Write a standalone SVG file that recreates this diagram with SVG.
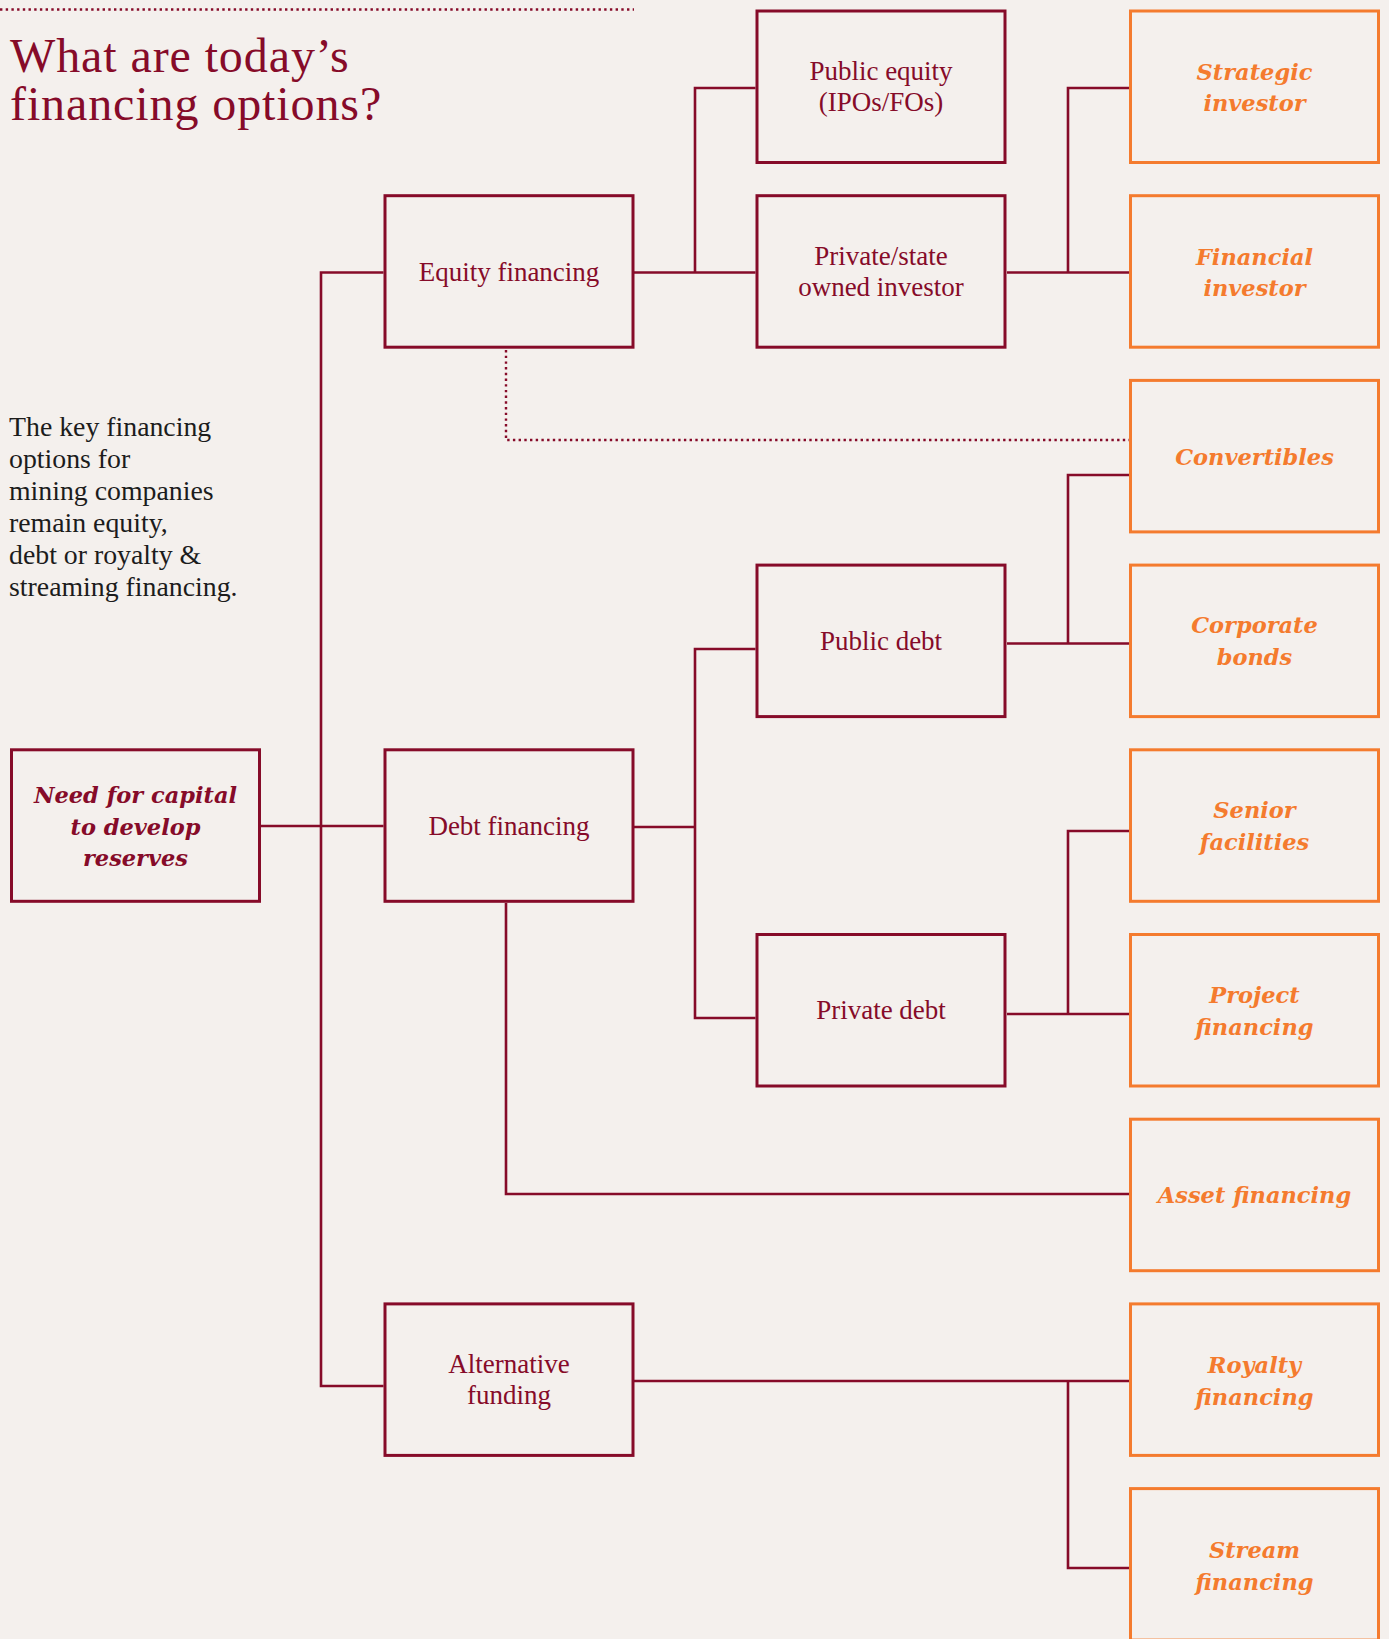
<svg xmlns="http://www.w3.org/2000/svg" width="1389" height="1639" viewBox="0 0 1389 1639">
<style>
.bg{fill:#F4F0ED}
.box{fill:none;stroke:#860B29;stroke-width:3}
.obox{fill:none;stroke:#F47B2E;stroke-width:3}
.lbl{font-family:"Liberation Serif","Times New Roman",serif;font-size:27px;fill:#860B29;text-anchor:middle}
.olbl{font-family:"DejaVu Serif",serif;font-size:22.5px;font-weight:bold;font-style:italic;fill:#F47B2E;text-anchor:middle}
.nlbl{font-family:"DejaVu Serif",serif;font-size:22.5px;font-weight:bold;font-style:italic;fill:#860B29;text-anchor:middle}
.title{font-family:"Liberation Serif","Times New Roman",serif;font-size:48px;letter-spacing:0.9px;fill:#860B29}
.para{font-family:"Liberation Serif","Times New Roman",serif;font-size:27.8px;fill:#1C1C1C}
.ln{fill:none;stroke:#860B29;stroke-width:2.6}
.dot{fill:none;stroke:#860B29;stroke-width:2.4;stroke-dasharray:2.4 3.3}
</style>
<rect class="bg" x="0" y="0" width="1389" height="1639"/>

<g id="header">
<line class="dot" x1="0" y1="9.5" x2="634" y2="9.5"/>
<text class="title" x="10" y="72">What are today’s</text>
<text class="title" x="10" y="120">financing options?</text>
</g>

<g id="intro">
<text class="para" x="9" y="436">The key financing</text>
<text class="para" x="9" y="468">options for</text>
<text class="para" x="9" y="500">mining companies</text>
<text class="para" x="9" y="532">remain equity,</text>
<text class="para" x="9" y="564">debt or royalty &amp;</text>
<text class="para" x="9" y="596">streaming financing.</text>
</g>

<g id="connectors">
<polyline class="ln" points="260,826 383.5,826"/>
<polyline class="ln" points="383.5,272.5 321,272.5 321,1386 383.5,1386"/>
<polyline class="ln" points="634,272.5 755.5,272.5"/>
<polyline class="ln" points="755.5,88 695,88 695,272.5"/>
<polyline class="ln" points="1007,272.5 1129,272.5"/>
<polyline class="ln" points="1129,88 1068,88 1068,272.5"/>
<polyline class="dot" points="506,350 506,440 1129,440"/>
<polyline class="ln" points="1007,643.5 1129,643.5"/>
<polyline class="ln" points="1129,475 1068,475 1068,643.5"/>
<polyline class="ln" points="634,827 695,827"/>
<polyline class="ln" points="755.5,649 695,649 695,1018 755.5,1018"/>
<polyline class="ln" points="1007,1014 1129,1014"/>
<polyline class="ln" points="1129,831 1068,831 1068,1014"/>
<polyline class="ln" points="506,903 506,1194 1129,1194"/>
<polyline class="ln" points="634,1381 1129,1381"/>
<polyline class="ln" points="1068,1381 1068,1568 1129,1568"/>
</g>

<g id="need">
<rect class="box" x="11.5" y="749.8" width="248" height="151.5"/>
<text class="nlbl" x="135.5" y="803">Need for capital</text>
<text class="nlbl" x="135.5" y="834.5">to develop</text>
<text class="nlbl" x="135.5" y="866">reserves</text>
</g>

<g id="equity">
<rect class="box" x="385" y="195.7" width="248" height="151.5"/>
<text class="lbl" x="509" y="280.5">Equity financing</text>
</g>
<g id="debt">
<rect class="box" x="385" y="749.8" width="248" height="151.5"/>
<text class="lbl" x="509" y="834.5">Debt financing</text>
</g>
<g id="alternative">
<rect class="box" x="385" y="1303.9" width="248" height="151.5"/>
<text class="lbl" x="509" y="1373">Alternative</text>
<text class="lbl" x="509" y="1404">funding</text>
</g>

<g id="public-equity">
<rect class="box" x="757" y="11" width="248" height="151.5"/>
<text class="lbl" x="881" y="80">Public equity</text>
<text class="lbl" x="881" y="111">(IPOs/FOs)</text>
</g>
<g id="private-state">
<rect class="box" x="757" y="195.7" width="248" height="151.5"/>
<text class="lbl" x="881" y="265">Private/state</text>
<text class="lbl" x="881" y="296">owned investor</text>
</g>
<g id="public-debt">
<rect class="box" x="757" y="565.1" width="248" height="151.5"/>
<text class="lbl" x="881" y="649.5">Public debt</text>
</g>
<g id="private-debt">
<rect class="box" x="757" y="934.5" width="248" height="151.5"/>
<text class="lbl" x="881" y="1019">Private debt</text>
</g>

<g id="strategic">
<rect class="obox" x="1130.5" y="11" width="248" height="151.5"/>
<text class="olbl" x="1254.5" y="80">Strategic</text>
<text class="olbl" x="1254.5" y="111">investor</text>
</g>
<g id="financial">
<rect class="obox" x="1130.5" y="195.7" width="248" height="151.5"/>
<text class="olbl" x="1254.5" y="265">Financial</text>
<text class="olbl" x="1254.5" y="296">investor</text>
</g>
<g id="convertibles">
<rect class="obox" x="1130.5" y="380.4" width="248" height="151.5"/>
<text class="olbl" x="1254.5" y="464.5">Convertibles</text>
</g>
<g id="corporate-bonds">
<rect class="obox" x="1130.5" y="565.1" width="248" height="151.5"/>
<text class="olbl" x="1254.5" y="633">Corporate</text>
<text class="olbl" x="1254.5" y="665">bonds</text>
</g>
<g id="senior">
<rect class="obox" x="1130.5" y="749.8" width="248" height="151.5"/>
<text class="olbl" x="1254.5" y="818">Senior</text>
<text class="olbl" x="1254.5" y="849.5">facilities</text>
</g>
<g id="project">
<rect class="obox" x="1130.5" y="934.5" width="248" height="151.5"/>
<text class="olbl" x="1254.5" y="1003">Project</text>
<text class="olbl" x="1254.5" y="1035">financing</text>
</g>
<g id="asset">
<rect class="obox" x="1130.5" y="1119.2" width="248" height="151.5"/>
<text class="olbl" x="1254.5" y="1203">Asset financing</text>
</g>
<g id="royalty">
<rect class="obox" x="1130.5" y="1303.9" width="248" height="151.5"/>
<text class="olbl" x="1254.5" y="1373">Royalty</text>
<text class="olbl" x="1254.5" y="1404.5">financing</text>
</g>
<g id="stream">
<rect class="obox" x="1130.5" y="1488.6" width="248" height="151.5"/>
<text class="olbl" x="1254.5" y="1558">Stream</text>
<text class="olbl" x="1254.5" y="1589.5">financing</text>
</g>
</svg>
